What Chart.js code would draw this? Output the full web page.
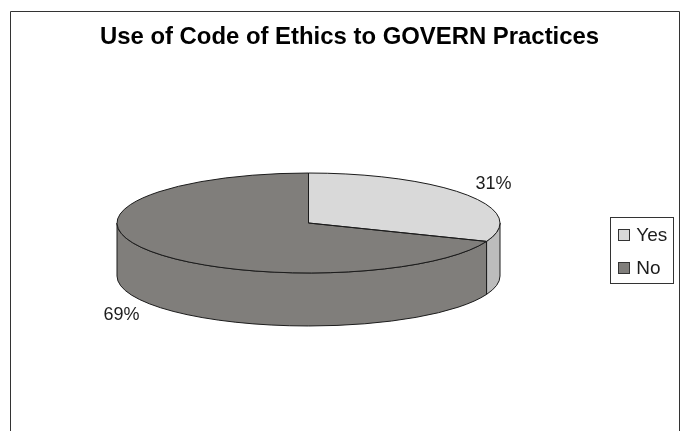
<!DOCTYPE html>
<html>
<head>
<meta charset="utf-8">
<style>
  html, body { margin: 0; padding: 0; background: #fff; }
  canvas { display: block; }
</style>
<script src="https://cdn.jsdelivr.net/npm/chart.js@4/dist/chart.umd.min.js"></script>
</head>
<body>
<canvas id="myChart" width="680" height="431"></canvas>
<script>
'use strict';
const titleText = 'Use of Code of Ethics to GOVERN Practices';
const categories = ['Yes', 'No'];
const shares = [31, 69];
const topColors = ['#d9d9d9', '#807e7b'];
const sideColors = ['#bcbcbc', '#807e7b'];

const fontName = '"Liberation Sans", Arial, sans-serif';
const inkColor = '#1c1c1c';

// where the tilted pie sits on the page
const pieX = 308.5;
const pieY = 223;
const pieRadius = 191.5;
const pieSquash = 0.261;
const pieDepth = 53;

function rimPath(ctx, dy, from, to, back) {
  ctx.ellipse(pieX, pieY + dy, pieRadius, pieRadius * pieSquash, 0, from, to, back);
}

function sliceOutline(ctx, arc) {
  ctx.beginPath();
  ctx.moveTo(pieX, pieY);
  rimPath(ctx, 0, arc.startAngle, arc.endAngle, false);
  ctx.closePath();
  ctx.stroke();
}

const tiltedPie = {
  id: 'tiltedPie',
  beforeDatasetsDraw(chart) {
    const ctx = chart.ctx;
    const arcs = chart.getDatasetMeta(0).data;
    // side wall, only the part of each slice that faces the viewer
    ctx.save();
    ctx.strokeStyle = inkColor;
    ctx.lineWidth = 1;
    arcs.forEach((arc, i) => {
      const from = Math.max(arc.startAngle, 0);
      const to = Math.min(arc.endAngle, Math.PI);
      if (to <= from) return;
      ctx.beginPath();
      rimPath(ctx, 0, from, to, false);
      rimPath(ctx, pieDepth, to, from, true);
      ctx.closePath();
      ctx.fillStyle = sideColors[i];
      ctx.fill();
      ctx.stroke();
    });
    ctx.restore();
    // squash the library's arcs for the top face
    const a = arcs[0];
    ctx.save();
    ctx.translate(pieX, pieY);
    ctx.scale(1, pieSquash);
    ctx.translate(-a.x, -a.y);
  },
  afterDatasetsDraw(chart) {
    const ctx = chart.ctx;
    ctx.restore();
    const arcs = chart.getDatasetMeta(0).data;
    ctx.save();
    ctx.strokeStyle = inkColor;
    ctx.lineWidth = 1;
    arcs.forEach(arc => sliceOutline(ctx, arc));
    // percent labels outside the rim
    ctx.fillStyle = inkColor;
    ctx.font = '18px ' + fontName;
    ctx.textAlign = 'center';
    ctx.textBaseline = 'middle';
    const total = shares.reduce((s, v) => s + v, 0);
    arcs.forEach((arc, i) => {
      const mid = (arc.startAngle + arc.endAngle) / 2;
      const lx = pieX - 1 + Math.cos(mid) * pieRadius * 1.175;
      let ly = pieY + Math.sin(mid) * pieRadius * pieSquash * 1.39;
      if (Math.sin(mid) > 0) ly += pieDepth;
      ctx.fillText(Math.round(shares[i] / total * 100) + '%', lx, ly);
    });
    ctx.restore();
  },
  beforeDraw(chart) {
    // open frame, the picture is cut off before the bottom line
    const ctx = chart.ctx;
    ctx.save();
    ctx.fillStyle = '#fff';
    ctx.fillRect(0, 0, chart.width, chart.height);
    ctx.strokeStyle = '#333';
    ctx.lineWidth = 1;
    ctx.beginPath();
    ctx.moveTo(10.5, chart.height);
    ctx.lineTo(10.5, 11.5);
    ctx.lineTo(679.5, 11.5);
    ctx.lineTo(679.5, chart.height);
    ctx.stroke();
    ctx.restore();
  },
  afterDraw(chart) {
    // box round the legend, and its swatches (the gap to the text is tighter than the library's)
    const hit = chart.legend.legendHitBoxes;
    const ctx = chart.ctx;
    const x0 = Math.round(hit[0].left) - 7.5;
    const y0 = Math.round(hit[0].top + hit[0].height / 2) - 17.5;
    const y1 = Math.round(hit[1].top + hit[1].height / 2) + 15.5;
    ctx.save();
    ctx.strokeStyle = '#333';
    ctx.lineWidth = 1;
    ctx.strokeRect(x0, y0, 63, y1 - y0);
    hit.forEach((box, i) => {
      const sy = Math.round(box.top + box.height / 2) - 5.5;
      ctx.fillStyle = topColors[i];
      ctx.fillRect(x0 + 8, sy, 11, 11);
      ctx.strokeRect(x0 + 8, sy, 11, 11);
    });
    ctx.restore();
  }
};

new Chart(document.getElementById('myChart'), {
  type: 'pie',
  data: {
    labels: categories,
    datasets: [{
      data: shares,
      backgroundColor: topColors,
      borderWidth: 0,
      clip: false
    }]
  },
  options: {
    responsive: false,
    animation: false,
    radius: pieRadius,
    layout: { padding: { left: 21.8, right: 2.8, top: 0, bottom: 0 } },
    plugins: {
      title: {
        display: true,
        text: titleText,
        color: '#000',
        font: { family: fontName, size: 23.9, weight: 'bold' },
        padding: { top: 23, bottom: 21 }
      },
      legend: {
        position: 'right',
        fullSize: false,
        labels: {
          color: inkColor,
          font: { family: fontName, size: 19 },
          boxWidth: 8.5,
          boxHeight: 11,
          padding: 14,
          generateLabels(chart) {
            const items = Chart.overrides.doughnut.plugins.legend.labels.generateLabels(chart);
            items.forEach(item => {
              item.fillStyle = 'rgba(0,0,0,0)';
              item.strokeStyle = 'rgba(0,0,0,0)';
            });
            return items;
          }
        }
      },
      tooltip: { enabled: false }
    }
  },
  plugins: [tiltedPie]
});
</script>
</body>
</html>
